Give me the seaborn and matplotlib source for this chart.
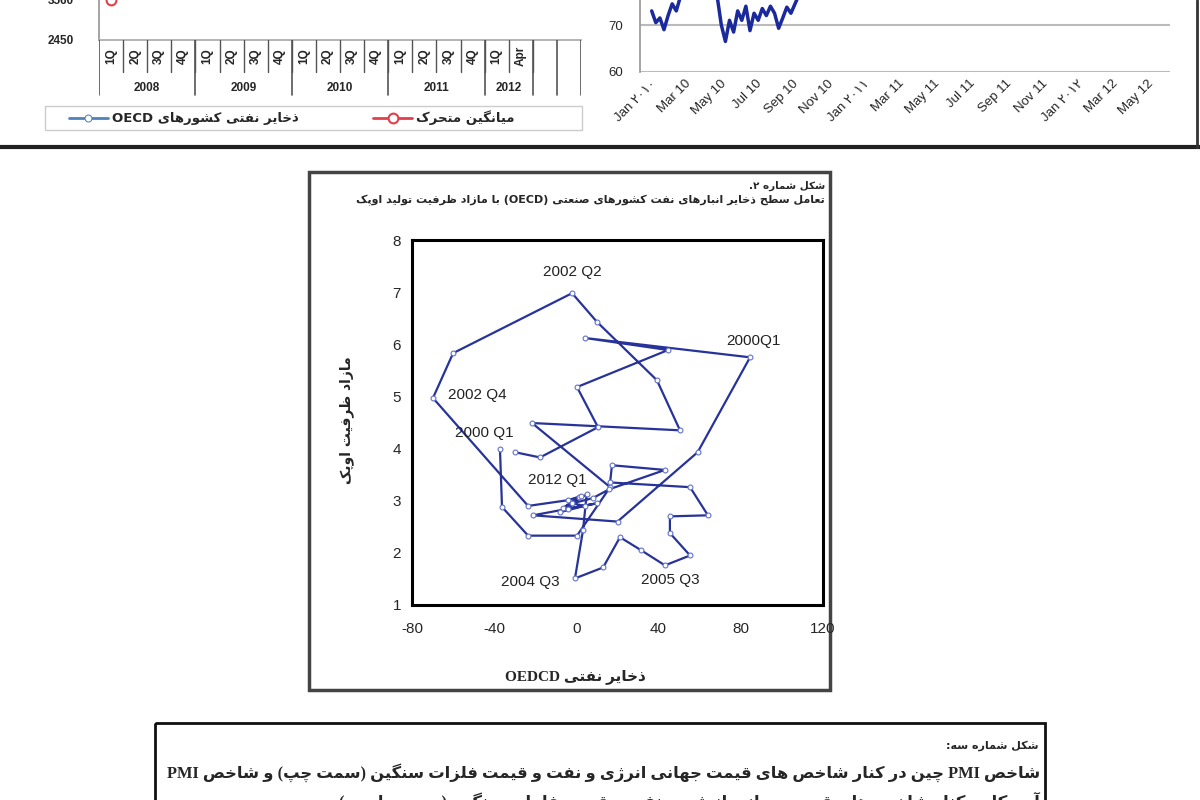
import re
import matplotlib
matplotlib.use("Agg")
import matplotlib.pyplot as plt
import matplotlib.patches as mpatches
import seaborn as sns
import pandas as pd

# ---------------- data ----------------
# middle chart: OECD oil stocks (x) vs OPEC spare capacity (y), quarterly path
oecd_stocks = [-37.2, -36.2, -23.5, 0.3, 16.4, -21.6, 50.4, 39.2, 10.0, -2.1,
               -60.0, -69.8, -23.5, -4.1, 1.5, -6.5, 5.0, 3.2, -0.7, 13.0,
               21.2, 31.5, 43.1, 55.3, 45.5, 45.5, 64.0, 55.3, 16.4, 17.3,
               43.1, 16.0, 8.0, -2.0, 4.0, -8.0, 2.0, -4.0, 10.0, -21.1,
               20.0, 59.0, 84.5, 4.3, 44.6, 0.3, 10.5, -17.7, -29.9]
opec_spare = [4.00, 2.88, 2.33, 2.33, 3.26, 4.49, 4.35, 5.31, 6.43, 6.98,
              5.83, 4.97, 2.90, 3.01, 3.08, 2.86, 3.12, 2.43, 1.51, 1.72,
              2.30, 2.05, 1.76, 1.95, 2.38, 2.70, 2.72, 3.26, 3.35, 3.68,
              3.59, 3.22, 3.05, 2.95, 2.90, 2.78, 3.10, 2.85, 2.95, 2.72,
              2.60, 3.93, 5.75, 6.12, 5.89, 5.18, 4.41, 3.83, 3.93]
point_labels = ["2000 Q1", "2002 Q2", "2002 Q4", "2004 Q3", "2005 Q3", "2000Q1", "2012 Q1"]
label_index = [0, 9, 11, 18, 22, 42, 48]
label_offset = [(-16, 16), (0, 21), (44, 3), (-45, -4), (5, -15), (3, 16), (42, -28)]

# top-left chart (only its lower edge is visible)
quarter_names = ["1Q", "2Q", "3Q", "4Q"] * 4 + ["1Q", "Apr"]
year_names = ["2008", "2009", "2010", "2011", "2012"]
year_quarters = [4, 4, 4, 4, 2]
oecd_level = [4300, 4350, 4420, 4480, 4520, 4560, 4500, 4470, 4430, 4400,
              4380, 4360, 4340, 4330, 4310, 4290, 4280, 4300]
moving_avg = [3560, 3900, 3960, 3990, 4000, 4020, 4030, 4040, 4050, 4060,
              4070, 4080, 4090, 4100, 4110, 4120, 4130, 4140]
left_ticks = [2450, 3560]

# top-right chart (weekly, only the dips below ~75 are visible)
week_dates = pd.date_range("2010-01-04", periods=39, freq="7D")
week_values = [73, 70.5, 71.5, 69, 72, 74.5, 73, 76, 79, 82,
               85, 84, 87, 86, 83, 80, 76, 70, 66.5, 71,
               68.5, 73, 71, 74, 68.8, 72.5, 71, 73.5, 72, 74,
               72.5, 69.3, 71.5, 73.8, 72.5, 74.5, 76.5, 80, 83]
right_ticks = [60, 70]
date_ticks = pd.to_datetime(["2010-01-01", "2010-03-01", "2010-05-01", "2010-07-01",
                             "2010-09-01", "2010-11-01", "2011-01-01", "2011-03-01",
                             "2011-05-01", "2011-07-01", "2011-09-01", "2011-11-01",
                             "2012-01-01", "2012-03-01", "2012-05-01"])
date_labels = ["Jan ۲۰۱۰", "Mar 10", "May 10", "Jul 10", "Sep 10", "Nov 10",
               "Jan ۲۰۱۱", "Mar 11", "May 11", "Jul 11", "Sep 11", "Nov 11",
               "Jan ۲۰۱۲", "Mar 12", "May 12"]

# ---------------- persian text helper ----------------
DUAL = {'ب': 0xFE8F, 'پ': 0xFB56, 'ت': 0xFE95, 'ث': 0xFE99, 'ج': 0xFE9D, 'چ': 0xFB7A,
        'ح': 0xFEA1, 'خ': 0xFEA5, 'س': 0xFEB1, 'ش': 0xFEB5, 'ص': 0xFEB9, 'ض': 0xFEBD,
        'ط': 0xFEC1, 'ظ': 0xFEC5, 'ع': 0xFEC9, 'غ': 0xFECD, 'ف': 0xFED1, 'ق': 0xFED5,
        'ک': 0xFB8E, 'گ': 0xFB92, 'ل': 0xFEDD, 'م': 0xFEE1, 'ن': 0xFEE5, 'ه': 0xFEE9,
        'ی': 0xFBFC}
RIGHT = {'ا': 0xFE8D, 'آ': 0xFE81, 'د': 0xFEA9, 'ذ': 0xFEAB, 'ر': 0xFEAD, 'ز': 0xFEAF,
         'ژ': 0xFB8A, 'و': 0xFEED}
LTR = r'([A-Za-z0-9۰-۹]+(?: [A-Za-z0-9۰-۹]+)*)'


def fa(text):
    """shape persian letters and put them in visual (left to right) order"""
    text = text.replace('ي', 'ی').replace('ك', 'ک')
    out = []
    for i, ch in enumerate(text):
        if ch in DUAL or ch in RIGHT:
            prv = text[i - 1] if i > 0 else ''
            nxt = text[i + 1] if i < len(text) - 1 else ''
            jp = prv in DUAL
            jn = ch in DUAL and (nxt in DUAL or nxt in RIGHT)
            base = DUAL.get(ch, RIGHT.get(ch))
            out.append(chr(base + (3 if jp and jn else 1 if jp else 2 if jn else 0)))
        elif ch != '\u200c':
            out.append(ch)
    parts = re.split(LTR, ''.join(out))
    vis = []
    for p in reversed(parts):
        if re.fullmatch(LTR, p):
            vis.append(p)
        else:
            vis.append(p[::-1].translate(str.maketrans('()', ')(')))
    return ''.join(vis)


# ---------------- figure ----------------
sns.set_theme(style="white")
plt.rcParams['font.family'] = ['Liberation Sans', 'DejaVu Sans']
plt.rcParams['axes.unicode_minus'] = False
W, H = 1200, 800
fig = plt.figure(figsize=(12, 8), dpi=100)
FA = ['DejaVu Sans']
SERIF = ['Liberation Serif', 'DejaVu Sans']

# background layer in pixel coordinates for frames and page text
bg = fig.add_axes([0, 0, 1, 1])
bg.set_xlim(0, W)
bg.set_ylim(H, 0)
bg.axis("off")
bg.plot([0, W], [147, 147], color="#222222", lw=3)
bg.plot([1197, 1197], [0, 147], color="#333333", lw=2)
bg.add_patch(mpatches.Rectangle((45, 106), 537, 24, fill=False, ec="#cccccc", lw=1))
bg.add_patch(mpatches.Rectangle((309, 172), 521, 518, fill=False, ec="#444444", lw=2.5))
bg.add_patch(mpatches.Rectangle((155, 723), 890, 200, fill=False, ec="#111111", lw=2))

bg.text(825, 186, fa("شکل شماره ۲."), ha="right", va="center", fontsize=7.5,
        fontweight="bold", family=FA)
bg.text(825, 200, fa("تعامل سطح ذخایر انبارهای نفت کشورهای صنعتی (OECD) با مازاد ظرفیت تولید اوپک"),
        ha="right", va="center", fontsize=8, fontweight="bold", family=FA)
bg.text(347, 420, fa("مازاد ظرفیت اوپک"), rotation=90, ha="center", va="center",
        fontsize=10, fontweight="bold", family=FA)
bg.text(575, 677, fa("ذخایر نفتی OEDCD"), ha="center", va="center", fontsize=11,
        fontweight="bold", family=SERIF)
bg.text(1038, 746, fa("شکل شماره سه:"), ha="right", va="center", fontsize=8,
        fontweight="bold", family=FA)
bg.text(1040, 773, fa("شاخص PMI چین در کنار شاخص های قیمت جهانی انرژی و نفت و قیمت فلزات سنگین (سمت چپ) و شاخص PMI"),
        ha="right", va="center", fontsize=11.8, fontweight="bold", family=SERIF)
bg.text(1040, 801, fa("آمریکا در کنار شاخص های قیمت جهانی انرژی و نفت و قیمت فلزات سنگین (سمت راست)"),
        ha="right", va="center", fontsize=11.8, fontweight="bold", family=SERIF)

# ---- middle chart ----
ax = fig.add_axes([412 / W, 1 - 605 / H, (823 - 412) / W, (605 - 240) / H])
sns.lineplot(x=oecd_stocks, y=opec_spare, sort=False, estimator=None, ax=ax,
             color="#28339a", lw=1.6, marker="o", ms=3.5, mfc="white", mec="#6272c8", mew=0.8)
for txt, idx, off in zip(point_labels, label_index, label_offset):
    ax.annotate(txt, (oecd_stocks[idx], opec_spare[idx]), xytext=off, textcoords="offset pixels",
                ha="center", va="center", fontsize=11, color="#222222")
ax.set_xlim(-80, 120)
ax.set_ylim(1, 8)
ax.set_xticks([-80, -40, 0, 40, 80, 120])
ax.set_yticks(range(1, 9))
ax.tick_params(axis="y", direction="out", length=4, width=1, pad=4, labelsize=11)
ax.tick_params(axis="x", direction="out", length=2, width=1.5, pad=10, labelsize=11)
for s in ax.spines.values():
    s.set_color("black")
    s.set_linewidth(2.2)
ax.set_xlabel("")
ax.set_ylabel("")

# ---- top-left chart ----
axl = fig.add_axes([99 / W, 1 - 40 / H, 482 / W, 200 / H])
axl.set_facecolor("none")
xq = list(range(len(oecd_level)))
sns.lineplot(x=xq, y=oecd_level, ax=axl, color="#4f81bd", lw=2, marker="o", ms=5,
             mfc="white", mec="#4f81bd", label=fa("ذخایر نفتی کشورهای OECD"))
sns.lineplot(x=xq, y=moving_avg, ax=axl, color="#e0404a", lw=2, marker="o", ms=7,
             mfc="white", mec="#e0404a", mew=1.5, label=fa("میانگین متحرک"))
axl.set_xlim(-0.5, 19.5)
axl.set_ylim(2450, 2450 + 1110 * 5)
axl.set_yticks(left_ticks)
axl.set_xticks([])
axl.tick_params(axis="y", length=4, color="#999999", pad=14, labelsize=8.5)
for lab in axl.get_yticklabels():
    lab.set_fontweight("bold")
for side in ["top", "right"]:
    axl.spines[side].set_visible(False)
axl.spines["left"].set_color("#999999")
axl.spines["bottom"].set_color("#aaaaaa")
axl.legend(loc="center left", bbox_to_anchor=(62 / W, 1 - 118 / H),
           bbox_transform=fig.transFigure, ncol=2, frameon=False, handlelength=3,
           columnspacing=5.6, handletextpad=0.3, borderpad=0,
           prop={"family": FA, "weight": "bold", "size": 9.5})

# category table under the top-left chart
cat = fig.add_axes([99 / W, 1 - 97 / H, 482 / W, 57 / H])
cat.set_facecolor("none")
cat.set_xlim(-0.5, 19.5)
cat.set_ylim(57, 0)
cat.axis("off")
for i, q in enumerate(quarter_names):
    cat.text(i, 16, q, rotation=90, ha="center", va="center", fontsize=8.5, fontweight="bold")
    cat.plot([i + 0.5, i + 0.5], [0, 32], color="#555555", lw=1)
start = 0
for y, n in zip(year_names, year_quarters):
    cat.text(start + n / 2 - 0.5, 48, y, ha="center", va="center", fontsize=8.5, fontweight="bold")
    cat.plot([start - 0.5, start - 0.5], [0, 55], color="#555555", lw=1.2)
    start += n
for xv in [17.5, 18.5, 19.5]:
    cat.plot([xv, xv], [0, 55], color="#555555", lw=1.2)

# ---- top-right chart ----
axr = fig.add_axes([640 / W, 1 - 72 / H, 530 / W, 188 / H])
axr.set_facecolor("none")
sns.lineplot(x=week_dates, y=week_values, ax=axr, color="#1a2a9c", lw=2.5)
axr.set_ylim(60, 100)
axr.set_yticks(right_ticks)
axr.set_xlim(pd.Timestamp("2009-12-15"), pd.Timestamp("2012-06-08"))
axr.set_xticks(date_ticks)
axr.set_xticklabels(date_labels, rotation=45, ha="right", rotation_mode="anchor",
                    fontsize=9.5, family=['Liberation Sans', 'DejaVu Sans'])
axr.set_xlabel("")
axr.set_ylabel("")
axr.grid(axis="y", color="#bbbbbb", lw=1.5)
axr.tick_params(axis="y", length=4, color="#999999", pad=8, labelsize=9.5)
axr.tick_params(axis="x", length=0, pad=4)
for side in ["top", "right", "bottom"]:
    axr.spines[side].set_visible(False)
axr.spines["left"].set_color("#999999")

fig.savefig("out.png", dpi=100)
